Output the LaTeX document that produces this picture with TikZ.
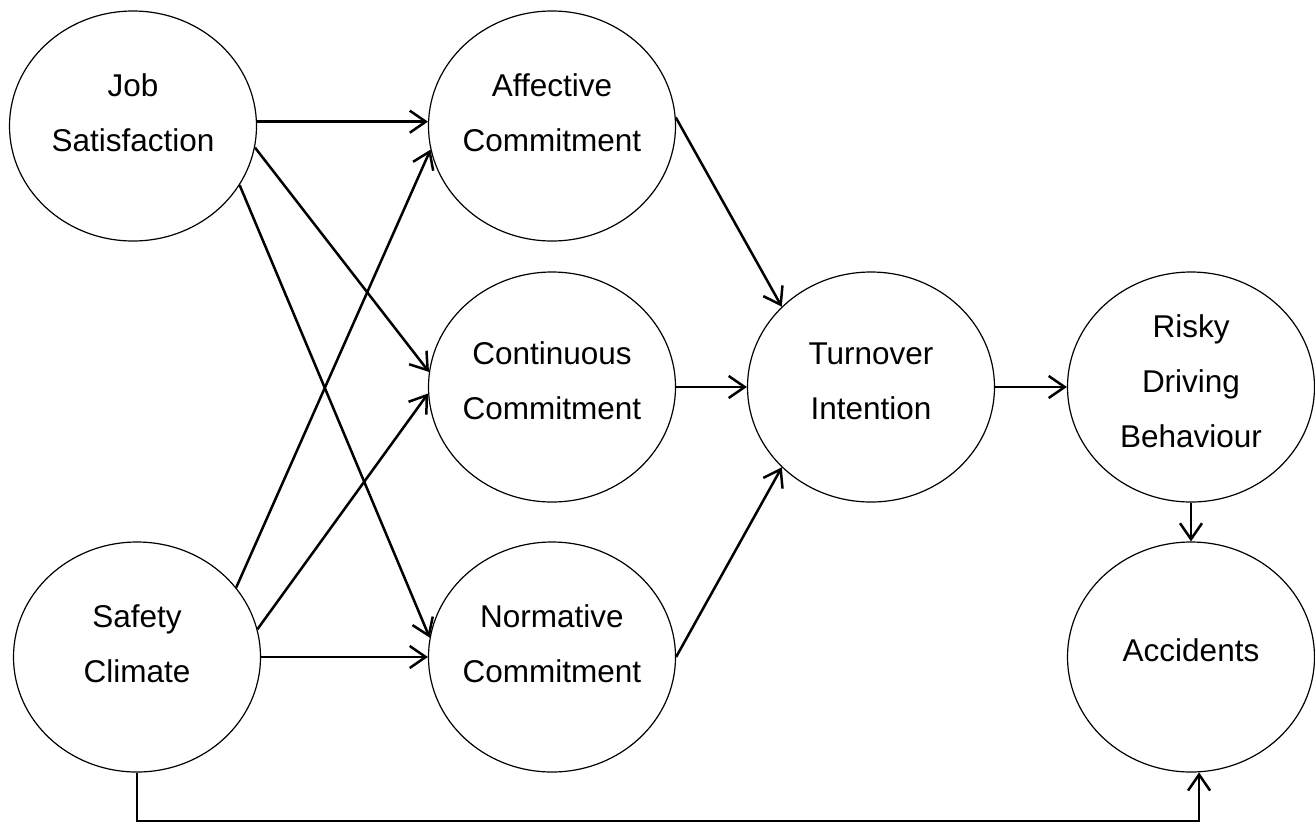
\documentclass[tikz,border=0pt]{standalone}
\usepackage{fontspec}
\setmainfont{Liberation Sans}
\usetikzlibrary{shapes.geometric,arrows.meta}
\begin{document}
\begin{tikzpicture}[x=1pt,y=-1pt,
  construct/.style={ellipse,draw,line width=1.2pt,minimum width=247pt,minimum height=230pt,inner sep=0pt},
  caption/.style={align=center,font=\fontsize{31.5}{55}\selectfont,inner sep=0pt},
  link/.style={line width=2.5pt,-{Straight Barb[length=16pt,width=22pt]}}
]
\useasboundingbox (0,0) rectangle (1315,823);

% constructs
\node[construct] (JS)  at (133,126)  {};
\node[construct] (SC)  at (137,657)  {};
\node[construct] (AC)  at (552,126)  {};
\node[construct] (CC)  at (552,387)  {};
\node[construct] (NC)  at (552,657)  {};
\node[construct] (TI)  at (871,387)  {};
\node[construct] (RDB) at (1191,387) {};
\node[construct] (ACC) at (1191,657) {};

% captions
\node[caption] (JS-t)  at ([yshift=13pt]JS.center)  {Job\\Satisfaction};
\node[caption] (SC-t)  at ([yshift=13pt]SC.center)  {Safety\\Climate};
\node[caption] (AC-t)  at ([yshift=13pt]AC.center)  {Affective\\Commitment};
\node[caption] (CC-t)  at ([yshift=6pt]CC.center)   {Continuous\\Commitment};
\node[caption] (NC-t)  at ([yshift=13pt]NC.center)  {Normative\\Commitment};
\node[caption] (TI-t)  at ([yshift=6pt]TI.center)   {Turnover\\Intention};
\node[caption] (RDB-t) at ([yshift=5.5pt]RDB.center) {Risky\\Driving\\Behaviour};
\node[caption] (ACC-t) at ([yshift=6.5pt]ACC.center) {Accidents};

% paths
\draw[link] (JS.2)   -- (AC.178);
\draw[link] (JS.-10) -- (CC.173);
\draw[link] (JS.-29) -- (NC.171);
\draw[link] (SC.35)  -- (AC.191);
\draw[link] (SC.13)  -- (CC.183);
\draw[link] (SC.east) -- (NC.west);
\draw[link] (AC.4)   -- (TI.138);
\draw[link] (CC.east) -- (TI.west);
\draw[link] (NC.east) -- (TI.222);
\draw[link] (TI.east) -- (RDB.west);
\draw[link] (RDB.south) -- (ACC.north);
\coordinate (floor) at (137,821);
\draw[link] (SC.south) |- (floor) -| (ACC.-86);
\end{tikzpicture}
\end{document}
